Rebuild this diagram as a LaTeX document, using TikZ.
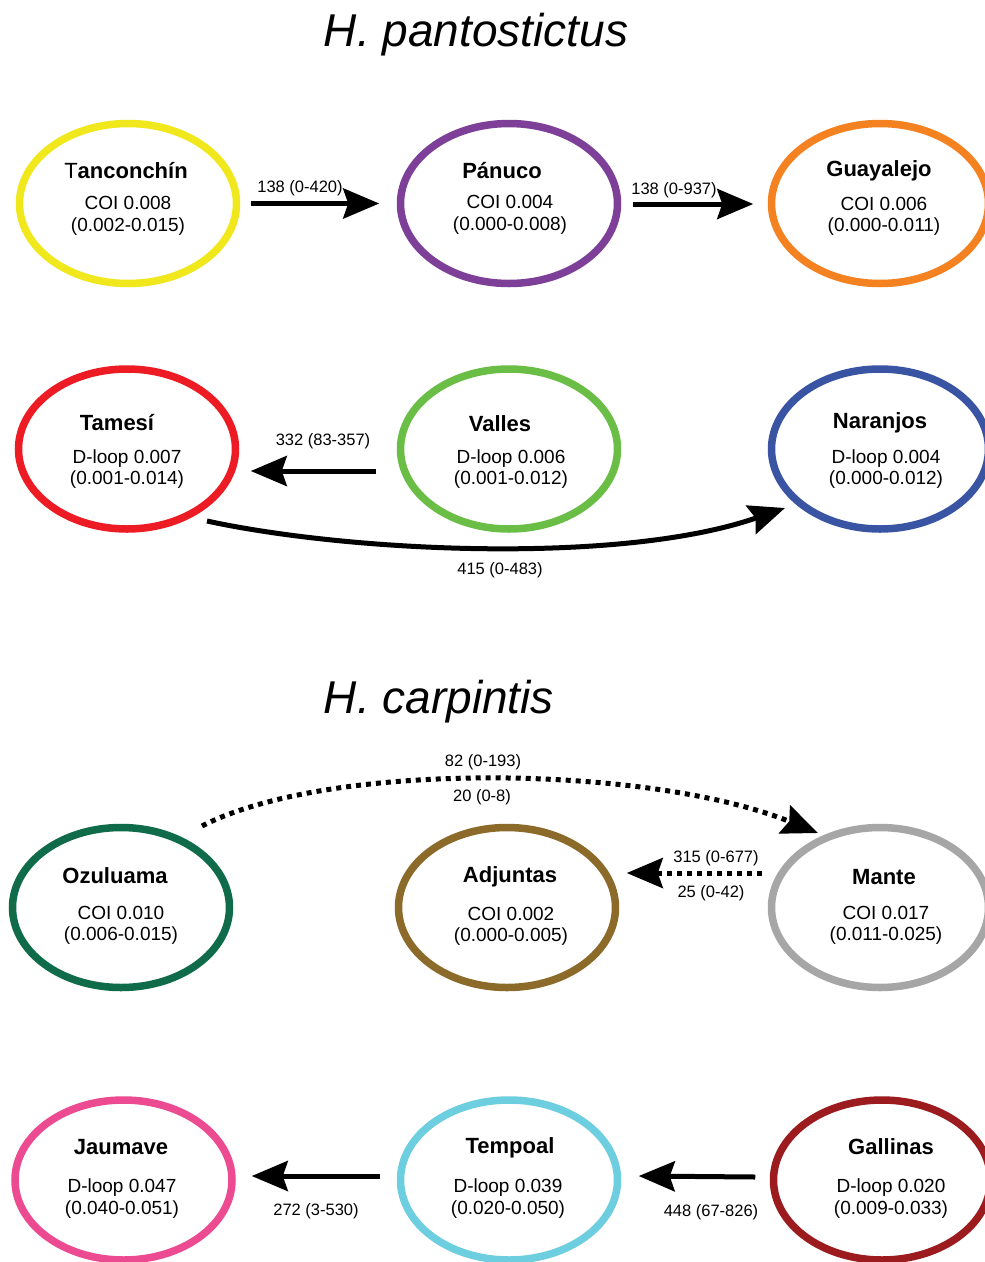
\documentclass[tikz,border=0pt]{standalone}
\usepackage{fontspec}
\setmainfont{Liberation Sans}
\usetikzlibrary{arrows.meta,shapes.geometric,calc}
\definecolor{cYel}{HTML}{F0E81C}
\definecolor{cPur}{HTML}{7D3F98}
\definecolor{cOra}{HTML}{F58220}
\definecolor{cRed}{HTML}{ED1C24}
\definecolor{cGre}{HTML}{6BBE45}
\definecolor{cBlu}{HTML}{3A54A4}
\definecolor{cDgr}{HTML}{106B4B}
\definecolor{cBro}{HTML}{8C6A2A}
\definecolor{cGry}{HTML}{A6A6A6}
\definecolor{cPin}{HTML}{EC4A91}
\definecolor{cCya}{HTML}{6CCEDF}
\definecolor{cDrd}{HTML}{9B1B1F}
\begin{document}
\begin{tikzpicture}[x=1pt,y=-1pt,
  pop/.style={ellipse,minimum width=217pt,minimum height=160pt,inner sep=0pt,line width=7.5pt},
  popname/.style={font=\fontsize{22}{26}\selectfont\bfseries,inner sep=0pt},
  popstat/.style={font=\fontsize{19}{21.5}\selectfont,inner sep=0pt,align=center},
  elabel/.style={font=\fontsize{16.5}{20}\selectfont,inner sep=0pt},
  ttl/.style={font=\fontsize{46}{52}\selectfont\itshape,inner sep=0pt},
  arr/.style={line width=5pt,-{Stealth[length=36pt,width=30pt,inset=5pt]}},
  darr/.style={line width=5pt,dash pattern=on 5pt off 5pt,-{Stealth[length=36pt,width=30pt,inset=5pt]}}]
\useasboundingbox (0,0) rectangle (985,1262);
\fill[white] (0,0) rectangle (985,1262);

% titles
\node[ttl] (t1) at (476,35) {H. pantostictus};
\node[ttl] (t2) at (439,702) {H. carpintis};

% ellipses
\node[pop,draw=cYel] (tan) at (128,203.5) {};
\node[pop,draw=cPur] (pan) at (509,203.5) {};
\node[pop,draw=cOra] (gua) at (880,203.5) {};
\node[pop,draw=cRed] (tam) at (127,449) {};
\node[pop,draw=cGre] (val) at (509,449) {};
\node[pop,draw=cBlu] (nar) at (880,449) {};
\node[pop,draw=cDgr] (ozu) at (121,907.5) {};
\node[pop,draw=cBro] (adj) at (507,907.5) {};
\node[pop,draw=cGry] (man) at (880,907.5) {};
\node[pop,draw=cPin] (jau) at (123.5,1180) {};
\node[pop,draw=cCya] (tem) at (509,1180) {};
\node[pop,draw=cDrd] (gal) at (882,1180) {};

% names
\node[popname] (tanN) at (126,171) {\mdseries T\bfseries anconchín};
\node[popname] (panN) at (502,171) {Pánuco};
\node[popname] (guaN) at (879,171) {Guayalejo};
\node[popname] (tamN) at (117,423) {Tamesí};
\node[popname] (valN) at (500,424) {Valles};
\node[popname] (narN) at (880,423) {Naranjos};
\node[popname] (ozuN) at (115,876) {Ozuluama};
\node[popname] (adjN) at (510,877) {Adjuntas};
\node[popname] (manN) at (884,877) {Mante};
\node[popname] (jauN) at (121,1147) {Jaumave};
\node[popname] (temN) at (510,1148) {Tempoal};
\node[popname] (galN) at (891,1147) {Gallinas};

% stats
\node[popstat] (tanS) at (128,216) {COI 0.008\\(0.002-0.015)};
\node[popstat] (panS) at (510,215) {COI 0.004\\(0.000-0.008)};
\node[popstat] (guaS) at (884,216.5) {COI 0.006\\(0.000-0.011)};
\node[popstat] (tamS) at (127,469) {D-loop 0.007\\(0.001-0.014)};
\node[popstat] (valS) at (511,469) {D-loop 0.006\\(0.001-0.012)};
\node[popstat] (narS) at (886,469) {D-loop 0.004\\(0.000-0.012)};
\node[popstat] (ozuS) at (121,925.5) {COI 0.010\\(0.006-0.015)};
\node[popstat] (adjS) at (511,926.5) {COI 0.002\\(0.000-0.005)};
\node[popstat] (manS) at (886,925.5) {COI 0.017\\(0.011-0.025)};
\node[popstat] (jauS) at (122,1198.5) {D-loop 0.047\\(0.040-0.051)};
\node[popstat] (temS) at (508,1198.5) {D-loop 0.039\\(0.020-0.050)};
\node[popstat] (galS) at (891,1198.5) {D-loop 0.020\\(0.009-0.033)};

% connectors
\draw[arr] ($(tan.east)+(10.5,0)$) -- ($(pan.west)+(-17.5,0)$);
\draw[arr] ($(pan.east)+(11.5,0.5)$) -- ($(gua.west)+(-14.5,0.5)$);
\draw[arr] ($(val.west)+(-20.5,22)$) -- ($(tam.east)+(11.5,22)$);
\draw[arr] ($(tam.center)+(80,72)$) .. controls (350,552) and (620,565) .. ($(nar.center)+(-95,59)$);
\draw[darr] ($(ozu.center)+(81,-81.5)$) .. controls (330,760) and (650,765) .. ($(man.center)+(-62,-74.5)$);
\draw[darr] ($(man.west)+(-5.5,-34.5)$) -- ($(adj.east)+(7.5,-34.5)$);
\draw[arr] ($(tem.west)+(-16.5,-4)$) -- ($(jau.east)+(16,-4)$);
\draw[arr] ($(gal.west)+(-14.5,-3)$) -- ($(tem.east)+(17.5,-4)$);

% edge labels
\node[elabel] (l1) at (300,188) {138 (0-420)};
\node[elabel] (l2) at (674,190) {138 (0-937)};
\node[elabel] (l3) at (323,441) {332 (83-357)};
\node[elabel] (l4) at (500,570) {415 (0-483)};
\node[elabel] (l5) at (483,762) {82 (0-193)};
\node[elabel] (l6) at (482,797) {20 (0-8)};
\node[elabel] (l7) at (716,858) {315 (0-677)};
\node[elabel] (l8) at (711,893) {25 (0-42)};
\node[elabel] (l9) at (316,1211) {272 (3-530)};
\node[elabel] (l10) at (711,1212) {448 (67-826)};
\end{tikzpicture}
\end{document}
